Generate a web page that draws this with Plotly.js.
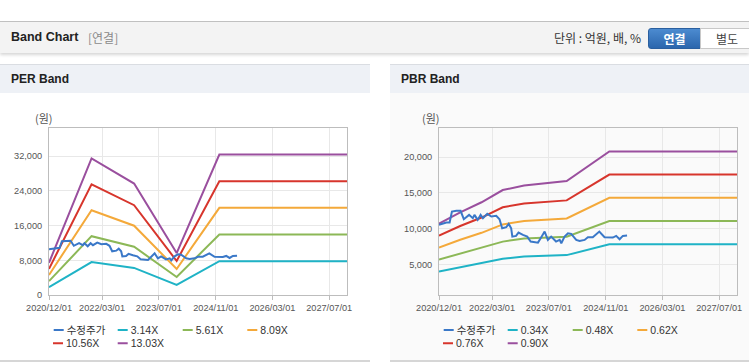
<!DOCTYPE html>
<html><head><meta charset="utf-8">
<script src="https://cdn.plot.ly/plotly-3.0.1.min.js"></script>
<style>
html,body{margin:0;padding:0;}
body{width:749px;height:364px;overflow:hidden;background:#fff;position:relative;font-family:"Liberation Sans","Noto Sans CJK KR",sans-serif;}
#topline{position:absolute;left:0;top:21px;width:749px;height:1px;background:#c2c2c2;}
#hdr{position:absolute;left:0;top:22px;width:749px;height:31px;background:#f3f3f3;box-shadow:0 2px 3px rgba(0,0,0,0.16);}
#hdr .t{position:absolute;left:11px;top:8px;font-weight:bold;font-size:12.5px;color:#222;}
#hdr .s{position:absolute;left:88px;top:7px;font-size:12px;color:#8a8a8a;font-family:"Noto Sans CJK KR",sans-serif;}
#hdr .u{position:absolute;right:108px;top:7px;font-size:12px;color:#333;font-family:"Noto Sans CJK KR",sans-serif;}
#b1{position:absolute;left:648px;top:6px;width:51px;height:19px;border:1px solid #2a5f9f;border-radius:3px 0 0 3px;background:linear-gradient(#4c8bd0,#2b66ad);color:#fff;font-weight:bold;font-size:12px;text-align:center;line-height:19px;font-family:"Noto Sans CJK KR",sans-serif;}
#b2{position:absolute;left:700px;top:6px;width:52px;height:19px;border:1px solid #c8c8c8;background:#fff;color:#444;font-size:12px;text-align:center;line-height:19px;font-family:"Noto Sans CJK KR",sans-serif;}
.ph{position:absolute;top:64px;height:29px;background:#eef1f6;border-top:1px solid #dadde2;box-sizing:border-box;}
.ph span{position:absolute;left:11px;top:7px;font-weight:bold;font-size:12px;color:#222;}
.pb{position:absolute;top:360px;height:2px;background:#d6d6d6;}
#c1{position:absolute;left:0;top:93px;width:370px;height:268px;}
#c2{position:absolute;left:390px;top:93px;width:359px;height:268px;}
</style></head>
<body>
<div id="topline"></div>
<div id="hdr"><span class="t">Band Chart</span><span class="s">[연결]</span><span class="u">단위 : 억원, 배, %</span><div id="b1">연결</div><div id="b2">별도</div></div>
<div class="ph" style="left:0;width:370px;"><span>PER Band</span></div>
<div class="ph" style="left:390px;width:359px;"><span>PBR Band</span></div>
<div id="c1"></div>
<div id="c2"></div>
<div class="pb" style="left:0;width:370px;"></div>
<div class="pb" style="left:390px;width:359px;"></div>
<script>
// ---- data ----
const tickVals = ['2020-12-01','2022-03-01','2023-07-01','2024-11-01','2026-03-01','2027-07-01'];
const tickText = ['2020/12/01','2022/03/01','2023/07/01','2024/11/01','2026/03/01','2027/07/01'];
const xRange = ['2020-12-01','2027-12-01'];

const priceName = '수정주가';
const priceDates = ['2020-12-01','2021-01-04','2021-02-02','2021-03-02','2021-03-22','2021-04-29','2021-06-04','2021-07-02','2021-08-16','2021-09-17','2021-10-01','2021-10-29','2021-11-23','2021-12-13','2022-01-19','2022-02-23','2022-04-06','2022-05-04','2022-05-27','2022-07-01','2022-07-22','2022-08-12','2022-08-22','2022-09-23','2022-10-14','2022-11-21','2022-12-28','2023-01-26','2023-03-30','2023-04-27','2023-05-26','2023-06-23','2023-07-21','2023-09-01','2023-10-02','2023-10-16','2023-11-13','2023-12-12','2024-01-09','2024-02-21','2024-03-21','2024-05-03','2024-05-31','2024-07-12','2024-09-06','2024-10-21','2024-12-31','2025-01-29','2025-02-27','2025-03-27','2025-05-02'];
const priceValues = [10540,10680,10870,10870,12400,12500,12500,11340,11940,11480,11940,11240,11940,11480,12080,11710,11800,11340,10080,10220,10680,10080,8910,9010,9470,9150,8910,8220,8070,8820,9610,8450,8910,8220,8450,7990,8910,9380,9290,8450,8310,8450,8820,8820,9610,8820,8770,9010,8540,9010,9060];

const perDates = ['2020-12-01','2021-12-01','2022-12-01','2023-12-01','2024-12-01','2027-12-01'];
const perLabels = ['3.14X','5.61X','8.09X','10.56X','13.03X'];
const per314 = [1790, 7590, 6250, 2330, 7800, 7800];
const per561 = [3200, 13560, 11120, 4160, 13940, 13940];
const per809 = [4610, 19550, 15970, 6000, 20100, 20100];
const per1056 = [6020, 25520, 20700, 7840, 26240, 26240];
const per1303 = [7430, 31490, 25700, 9670, 32380, 32380];
const perTicks = [0, 8000, 16000, 24000, 32000];

const pbrDates = ['2020-12-01','2021-06-01','2021-12-01','2022-06-01','2022-12-01','2023-12-01','2024-12-01','2027-12-01'];
const pbrLabels = ['0.34X','0.48X','0.62X','0.76X','0.90X'];
const pbr034 = [4050, 4650, 5180, 5820, 6120, 6330, 7854, 7854];
const pbr048 = [5710, 6560, 7310, 8210, 8650, 8900, 11090, 11090];
const pbr062 = [7380, 8480, 9440, 10610, 11080, 11450, 14320, 14320];
const pbr076 = [9040, 10390, 11570, 13000, 13520, 13960, 17560, 17560];
const pbr090 = [10710, 12300, 13700, 15400, 16020, 16650, 20790, 20790];
const pbrTicks = [5000, 10000, 15000, 20000];

// ---- style ----
const colors = ['#1fb3c6','#8cb857','#f4a93a','#d7352c','#9a4f9e'];
const priceColor = '#3a78c8';
const FONT = '"Liberation Sans","Noto Sans CJK KR",sans-serif';
// legend slot positions (px, text start / row center) inside each chart div
const slots = [[66.7,237],[130.7,237],[195.7,237],[260.3,237],[66,250.3],[130.7,250.3]];

function makeChart(id, W, H, mr, bg, bandDates, bands, labels, yTicks, yRange, unitX) {
  const data = [];
  const lk = i => i === 0 ? 'legend' : 'legend' + (i + 1);
  bands.forEach((b, i) => {
    data.push({x: bandDates, y: b, type: 'scatter', mode: 'lines', name: labels[i],
      line: {color: colors[i], width: 2}, legend: lk(i + 1)});
  });
  data.push({x: priceDates, y: priceValues, type: 'scatter', mode: 'lines', name: priceName,
    line: {color: priceColor, width: 2}, legend: lk(0)});
  const layout = {
    width: W, height: H,
    margin: {l: 49, r: mr, t: 35, b: 66, autoexpand: false},
    paper_bgcolor: bg, plot_bgcolor: bg,
    showlegend: true,
    hovermode: false,
    xaxis: {type: 'date', range: xRange, tickvals: tickVals, ticktext: tickText,
      showgrid: true, gridcolor: '#e8e8e8', gridwidth: 1,
      showline: true, linecolor: '#bdbdbd', linewidth: 1, mirror: true,
      ticks: 'outside', ticklen: 4, tickcolor: '#bdbdbd',
      tickfont: {family: FONT, size: 9.2, color: '#555'}, zeroline: false, fixedrange: true},
    yaxis: {range: yRange, tickvals: yTicks, tickformat: ',d',
      showgrid: true, gridcolor: '#e8e8e8', gridwidth: 1,
      showline: true, linecolor: '#bdbdbd', linewidth: 1, mirror: true,
      ticks: '', ticklabelstandoff: 4,
      tickfont: {family: FONT, size: 9.2, color: '#555'}, zeroline: false, fixedrange: true},
    annotations: [{text: '(원)', xref: 'paper', yref: 'paper', x: unitX, y: 1.062,
      xanchor: 'left', yanchor: 'middle', showarrow: false,
      font: {family: '"Noto Sans CJK KR",sans-serif', size: 11, color: '#555'}}]
  };
  slots.forEach((s, i) => {
    layout[lk(i)] = {xref: 'container', yref: 'container', x: (s[0] - 40) / W, y: 1 - s[1] / H,
      xanchor: 'left', yanchor: 'middle', orientation: 'h', bgcolor: 'rgba(0,0,0,0)', borderwidth: 0,
      font: {family: FONT, size: 10.5, color: '#333'}};
  });
  return Plotly.newPlot(id, data, layout, {displayModeBar: false, staticPlot: true}).then(gd => {
    gd.querySelectorAll('g.legendlines path').forEach(p => p.setAttribute('d', 'M27,0h10'));
  });
}

makeChart('c1', 370, 268, 23, '#ffffff', perDates, [per314, per561, per809, per1056, per1303],
  perLabels, perTicks, [0, 38500], -0.055);
makeChart('c2', 359, 268, 12, '#fafafa', pbrDates, [pbr034, pbr048, pbr062, pbr076, pbr090],
  pbrLabels, pbrTicks, [770, 24050], -0.064);
</script>
</body></html>
